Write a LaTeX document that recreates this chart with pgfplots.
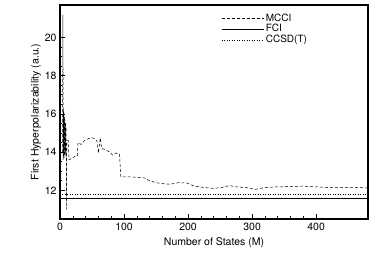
\documentclass[border=0pt]{standalone}
\usepackage{pgfplots}
\pgfplotsset{compat=1.18}
\usepackage{fontspec}
\setmainfont{TeX Gyre Heros}
\begin{document}
\begin{tikzpicture}
\begin{axis}[
  scale only axis,
  width=308pt, height=214pt,
  xmin=0, xmax=481, ymin=10.5, ymax=21.7,
  xtick={0,100,200,300,400},
  ytick={12,14,16,18,20},
  minor x tick num=4,
  minor y tick num=3,
  tick align=inside,
  xtick pos=bottom, ytick pos=left,
  major tick length=5pt, minor tick length=2.5pt,
  axis line style={line width=1.2pt},
  every tick/.style={black, line width=0.8pt},
  every minor tick/.style={black, line width=0.6pt},
  /pgf/number format/assume math mode=true,
  tick label style={font=\fontsize{10.5}{12}\selectfont},
  xticklabel style={yshift=-1pt},
  label style={font=\fontsize{10.5}{12}\selectfont},
  xlabel={Number of States (M)},
  ylabel={First Hyperpolarizability (a.u.)},
  xlabel style={yshift=0pt},
  ylabel style={yshift=-3pt},
  legend style={at={(0.52,0.975)}, anchor=north west, draw=none, fill=none,
    font=\fontsize{10}{11}\selectfont, row sep=-2pt, inner sep=1pt},
  legend cell align=left,
  legend image code/.code={\draw[#1] (0pt,0pt) -- (42pt,0pt);},
]
\addplot[black, line width=0.5pt, dash pattern=on 3pt off 2pt] coordinates {
(4,14.0)(4.5,21.2)(5,13.6)(5.4,16.3)(5.8,13.8)(6.2,16.1)(6.6,13.7)(7.0,15.9)(7.4,13.9)(7.8,15.7)(8.2,13.8)(8.6,15.5)(9.0,14.0)(9.4,15.3)(9.8,14.2)(10.2,11.0)(10.6,14.6)(13,14.6)(14,13.6)(20,13.7)(24,13.8)(27,13.8)(28,14.5)(33,14.4)(38,14.6)(44,14.7)(50,14.75)(55,14.7)(58,14.55)(60,13.95)(63,14.75)(65,14.2)(72,14.1)(78,14.0)(82,13.85)(88,13.95)(93,13.9)(95,12.7)(110,12.7)(120,12.68)(132,12.65)(140,12.5)(150,12.4)(160,12.35)(172,12.32)(185,12.4)(198,12.38)(210,12.22)(225,12.15)(240,12.1)(252,12.15)(265,12.25)(275,12.18)(290,12.15)(305,12.05)(320,12.15)(340,12.18)(360,12.2)(380,12.22)(400,12.18)(420,12.15)(450,12.15)(481,12.13)
};
\addlegendentry{MCCI}
\addplot[black, line width=0.5pt] coordinates {(0,11.6)(481,11.6)};
\addlegendentry{FCI}
\addplot[black, line width=0.5pt, dotted] coordinates {(0,11.8)(481,11.8)};
\addlegendentry{CCSD(T)}
\end{axis}
\path[use as bounding box] ([xshift=-60pt,yshift=-45pt]current axis.south west) rectangle ([xshift=6pt,yshift=5pt]current axis.north east);
\end{tikzpicture}
\end{document}
